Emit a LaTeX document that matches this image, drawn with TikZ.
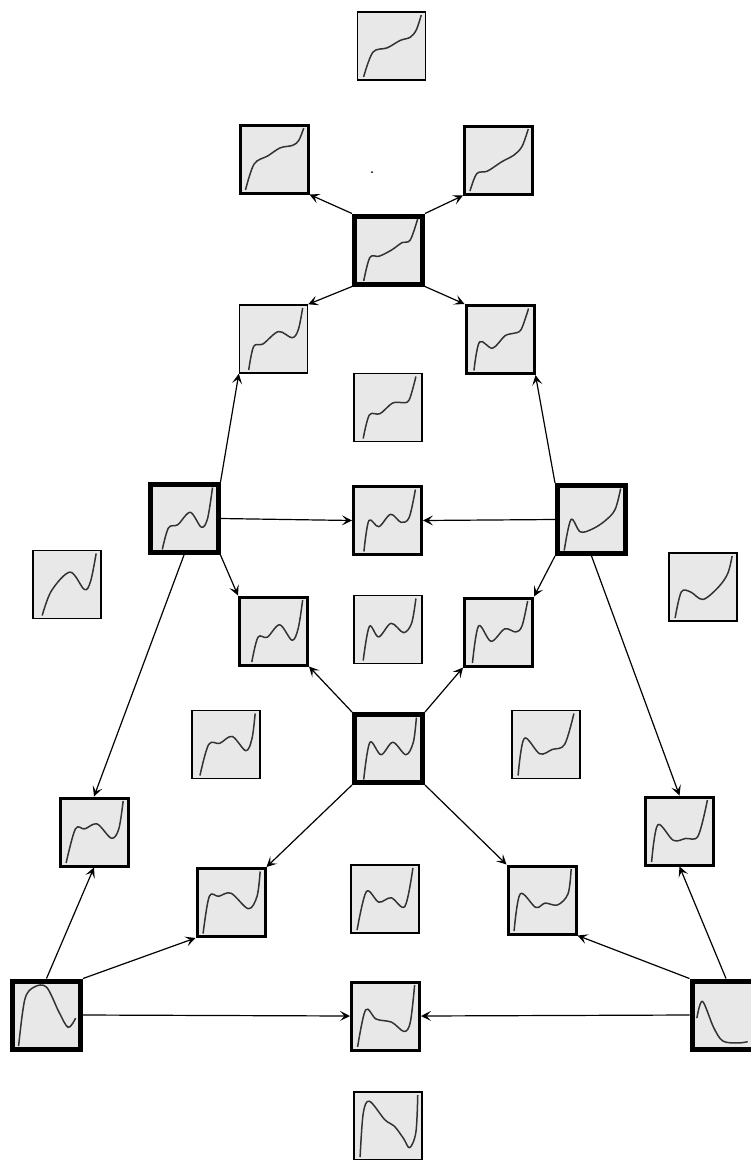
\documentclass[tikz,border=0pt]{standalone}
\usepackage{amsmath}
\usepackage{tikz}
\usetikzlibrary{arrows.meta}

\definecolor{boxfill}{HTML}{E8E8E8}
\definecolor{curvecol}{HTML}{333333}

\tikzset{
  plotbox/.style={draw, shape=rectangle, fill=boxfill, minimum size=68pt, inner sep=0pt},
  thinbox/.style={plotbox, line width=1.4pt},
  midbox/.style={plotbox, line width=3pt},
  thickbox/.style={plotbox, line width=5pt},
  fcurve/.style={draw=curvecol, line width=1.5pt, line join=round},
  link/.style={-{Stealth[length=10pt,width=10pt,inset=4.5pt]}, line width=1.2pt},
  dot/.style={fill, shape=circle, inner sep=0pt, minimum size=2pt}
}

% curve inside a box, (u,v) from 0 to 1
\newcommand{\fcurve}[2]{%
  \draw[fcurve, shift={(#1.center)}, xshift=-31pt, yshift=-31pt, x=62pt, y=62pt]
    plot[smooth, tension=0.55] coordinates {#2};}

\begin{document}
\begin{tikzpicture}[x=1pt, y=-1pt]
\useasboundingbox (0,0) rectangle (751,1160);

\node at (391.5,46) [thinbox] (p1) {};
\node at (274,159) [midbox] (p2) {};
\node at (498.5,160) [midbox] (p3) {};
\node at (388.5,250) [thickbox] (p4) {};
\node at (273.5,339) [thinbox] (p5) {};
\node at (500,339.5) [midbox] (p6) {};
\node at (388,407.5) [thinbox] (p7) {};
\node at (184,518.5) [thickbox] (p8) {};
\node at (387.5,520.5) [midbox] (p9) {};
\node at (591.5,519.5) [thickbox] (p10) {};
\node at (67,584.5) [thinbox] (p11) {};
\node at (703,587) [thinbox] (p12) {};
\node at (273.5,631) [midbox] (p13) {};
\node at (388,629.5) [thinbox] (p14) {};
\node at (498.5,632) [midbox] (p15) {};
\node at (226,744.5) [thinbox] (p16) {};
\node at (388.5,748.5) [thickbox] (p17) {};
\node at (546,744.5) [thinbox] (p18) {};
\node at (94,832) [midbox] (p19) {};
\node at (679.5,831) [midbox] (p20) {};
\node at (231,902.5) [midbox] (p21) {};
\node at (385,899) [thinbox] (p22) {};
\node at (542,900) [midbox] (p23) {};
\node at (46.5,1015) [thickbox] (p24) {};
\node at (385.5,1016) [midbox] (p25) {};
\node at (726,1015) [thickbox] (p26) {};
\node at (388,1126) [thinbox] (p27) {};
\node at (372,172) [dot] (mark) {};

\fcurve{p1}{(0.05,0) (0.2,0.4) (0.43,0.47) (0.64,0.59) (0.8,0.64) (0.9,0.76) (0.98,1)}
\fcurve{p2}{(0.04,0) (0.18,0.42) (0.4,0.55) (0.6,0.68) (0.8,0.72) (0.9,0.8) (0.98,1)}
\fcurve{p3}{(0.04,0) (0.15,0.28) (0.32,0.32) (0.55,0.47) (0.75,0.58) (0.88,0.72) (0.98,1)}
\fcurve{p4}{(0.1,0) (0.2,0.38) (0.35,0.4) (0.55,0.5) (0.72,0.62) (0.85,0.66) (0.97,1)}
\fcurve{p5}{(0.1,0) (0.18,0.38) (0.33,0.42) (0.58,0.62) (0.8,0.52) (0.9,0.65) (0.97,1)}
\fcurve{p6}{(0.08,0) (0.17,0.46) (0.38,0.36) (0.58,0.56) (0.72,0.6) (0.84,0.66) (0.96,1)}
\fcurve{p7}{(0.1,0) (0.2,0.38) (0.37,0.4) (0.57,0.57) (0.72,0.58) (0.84,0.62) (0.95,1)}
\fcurve{p8}{(0.15,0) (0.25,0.35) (0.4,0.4) (0.6,0.6) (0.78,0.36) (0.88,0.5) (0.96,1)}
\fcurve{p9}{(0.12,0) (0.2,0.5) (0.36,0.4) (0.55,0.6) (0.72,0.47) (0.85,0.55) (0.95,1)}
\fcurve{p10}{(0.06,0) (0.17,0.5) (0.32,0.3) (0.52,0.35) (0.72,0.48) (0.88,0.66) (0.97,1)}
\fcurve{p11}{(0.1,0) (0.25,0.4) (0.55,0.7) (0.78,0.42) (0.88,0.55) (0.97,1)}
\fcurve{p12}{(0.05,0) (0.15,0.42) (0.3,0.42) (0.5,0.3) (0.75,0.5) (0.9,0.72) (0.97,1)}
\fcurve{p13}{(0.15,0) (0.25,0.4) (0.4,0.4) (0.6,0.6) (0.8,0.35) (0.9,0.55) (0.97,1)}
\fcurve{p14}{(0.1,0) (0.2,0.55) (0.35,0.38) (0.55,0.6) (0.75,0.45) (0.88,0.6) (0.95,1)}
\fcurve{p15}{(0.08,0) (0.18,0.6) (0.38,0.35) (0.6,0.55) (0.78,0.5) (0.88,0.6) (0.97,1)}
\fcurve{p16}{(0.08,0) (0.22,0.5) (0.4,0.52) (0.6,0.63) (0.82,0.4) (0.92,0.6) (0.97,1)}
\fcurve{p17}{(0.1,0) (0.2,0.6) (0.38,0.4) (0.57,0.6) (0.78,0.4) (0.9,0.6) (0.95,1)}
\fcurve{p18}{(0.05,0) (0.15,0.6) (0.4,0.35) (0.6,0.42) (0.8,0.5) (0.95,1)}
\fcurve{p19}{(0.05,0) (0.2,0.55) (0.35,0.55) (0.55,0.63) (0.78,0.4) (0.9,0.55) (0.97,1)}
\fcurve{p20}{(0.05,0) (0.15,0.6) (0.4,0.35) (0.6,0.38) (0.8,0.42) (0.95,1)}
\fcurve{p21}{(0.05,0) (0.15,0.6) (0.3,0.6) (0.5,0.65) (0.78,0.4) (0.92,0.6) (0.97,1)}
\fcurve{p22}{(0.05,0) (0.2,0.62) (0.4,0.45) (0.6,0.52) (0.82,0.38) (0.95,1)}
\fcurve{p23}{(0.05,0) (0.15,0.6) (0.4,0.38) (0.55,0.45) (0.75,0.42) (0.92,0.6) (0.97,1)}
\fcurve{p24}{(0.05,0) (0.15,0.75) (0.3,0.95) (0.5,0.95) (0.7,0.55) (0.85,0.3) (0.97,0.45)}
\fcurve{p25}{(0.05,0) (0.18,0.6) (0.35,0.45) (0.6,0.4) (0.8,0.25) (0.9,0.4) (0.97,1)}
\fcurve{p26}{(0.03,0.45) (0.12,0.72) (0.3,0.3) (0.45,0.08) (0.7,0.05) (0.85,0.07)}
\fcurve{p27}{(0.05,0) (0.1,0.7) (0.2,0.9) (0.45,0.6) (0.6,0.5) (0.75,0.3) (0.85,0.15) (0.95,0.4) (0.98,1)}

\foreach \a/\b in {
  p4.north west/p2.south east, p4.north east/p3.south west,
  p4.south west/p5.north east, p4.south east/p6.north west,
  p8.north east/p5.south west, p10.north west/p6.south east,
  p8.east/p9.west, p10.west/p9.east,
  p8.south east/p13.north west, p10.south west/p15.north east,
  p17.north west/p13.south east, p17.north east/p15.south west,
  p8.south/p19.north, p10.south/p20.north,
  p17.south west/p21.north east, p17.south east/p23.north west,
  p24.north/p19.south, p24.north east/p21.south west, p24.east/p25.west,
  p26.north/p20.south, p26.north west/p23.south east, p26.west/p25.east}
  \draw[link] (\a) -- (\b);
\end{tikzpicture}
\end{document}
